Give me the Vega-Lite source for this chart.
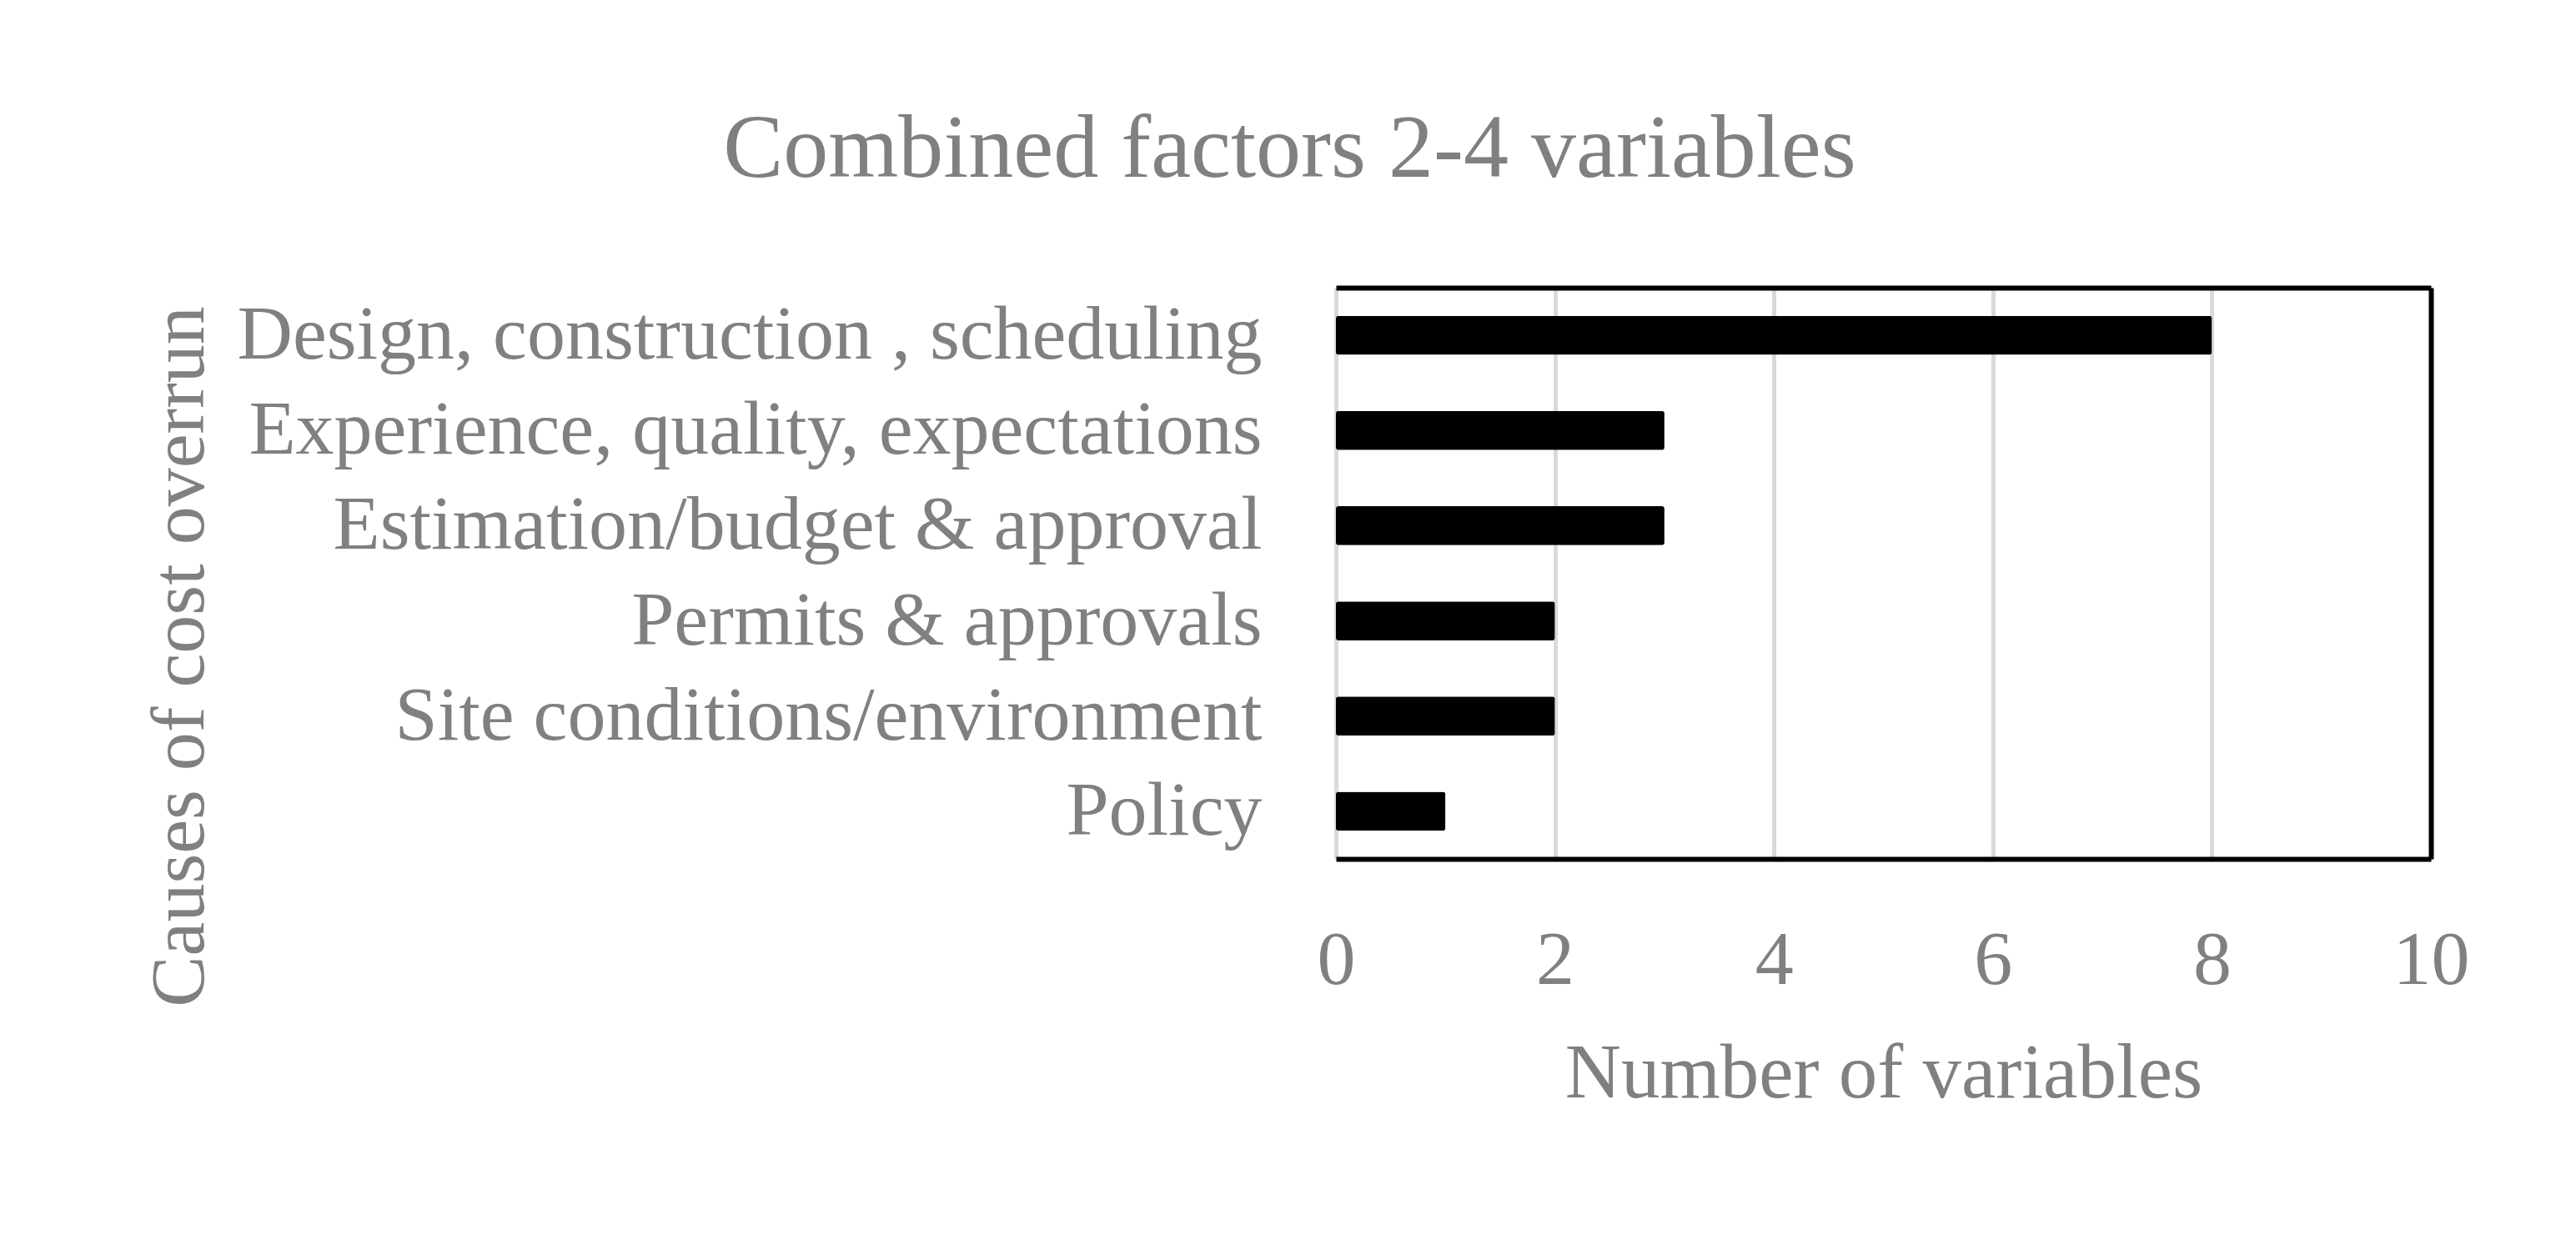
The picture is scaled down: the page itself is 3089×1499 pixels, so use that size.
{
  "$schema": "https://vega.github.io/schema/vega-lite/v6.json",
  "width": 1313,
  "height": 685,
  "autosize": {"type": "none"},
  "padding": {"left": 1602, "top": 345, "right": 174, "bottom": 469},
  "background": "white",
  "title": {
    "text": "Combined factors 2-4 variables",
    "font": "Liberation Serif",
    "fontSize": 108,
    "fontWeight": "normal",
    "color": "#808080",
    "anchor": "middle",
    "dx": -712,
    "offset": 110
  },
  "data": {
    "values": [
      {"cause": "Design, construction , scheduling", "n": 8},
      {"cause": "Experience, quality, expectations", "n": 3},
      {"cause": "Estimation/budget & approval", "n": 3},
      {"cause": "Permits & approvals", "n": 2},
      {"cause": "Site conditions/environment", "n": 2},
      {"cause": "Policy", "n": 1}
    ]
  },
  "layer": [
    {
      "mark": {"type": "bar", "color": "black", "cornerRadius": 3},
      "encoding": {
        "y": {
          "field": "cause",
          "type": "nominal",
          "sort": null,
          "scale": {"paddingInner": 0.59, "paddingOuter": 0.295},
          "axis": {
            "orient": "left",
            "title": "Causes of cost overrun",
            "domain": false,
            "ticks": false,
            "grid": false,
            "labelPadding": 89,
            "labelFont": "Liberation Serif",
            "labelFontSize": 92,
            "labelColor": "#808080",
            "labelLimit": 3000,
            "titleFont": "Liberation Serif",
            "titleFontSize": 92,
            "titleFontWeight": "normal",
            "titleColor": "#808080",
            "titleX": -1359,
            "titleY": 442,
            "titleAngle": 270,
            "titleAlign": "center",
            "titleBaseline": "alphabetic"
          }
        },
        "x": {
          "field": "n",
          "type": "quantitative",
          "scale": {"domain": [0, 10], "nice": false},
          "axis": {
            "orient": "bottom",
            "values": [0, 2, 4, 6, 8, 10],
            "grid": true,
            "gridColor": "#d9d9d9",
            "gridWidth": 5,
            "domain": true,
            "domainColor": "black",
            "domainWidth": 6,
            "ticks": false,
            "labelFlush": false,
            "labelOverlap": false,
            "labelPadding": 76,
            "labelFont": "Liberation Serif",
            "labelFontSize": 92,
            "labelColor": "#808080",
            "title": "Number of variables",
            "titleFont": "Liberation Serif",
            "titleFontSize": 93,
            "titleFontWeight": "normal",
            "titleColor": "#808080",
            "titleY": 285,
            "titleBaseline": "alphabetic"
          }
        }
      }
    },
    {
      "mark": {"type": "bar", "opacity": 0},
      "encoding": {
        "y": {
          "field": "cause",
          "type": "nominal",
          "sort": null,
          "axis": {
            "orient": "right",
            "labels": false,
            "ticks": false,
            "grid": false,
            "title": null,
            "domainColor": "black",
            "domainWidth": 6
          }
        },
        "x": {
          "field": "n",
          "type": "quantitative",
          "axis": {
            "orient": "top",
            "labels": false,
            "ticks": false,
            "grid": false,
            "title": null,
            "domainColor": "black",
            "domainWidth": 6
          }
        }
      }
    }
  ],
  "resolve": {"axis": {"x": "independent", "y": "independent"}},
  "config": {"view": {"stroke": null}}
}
